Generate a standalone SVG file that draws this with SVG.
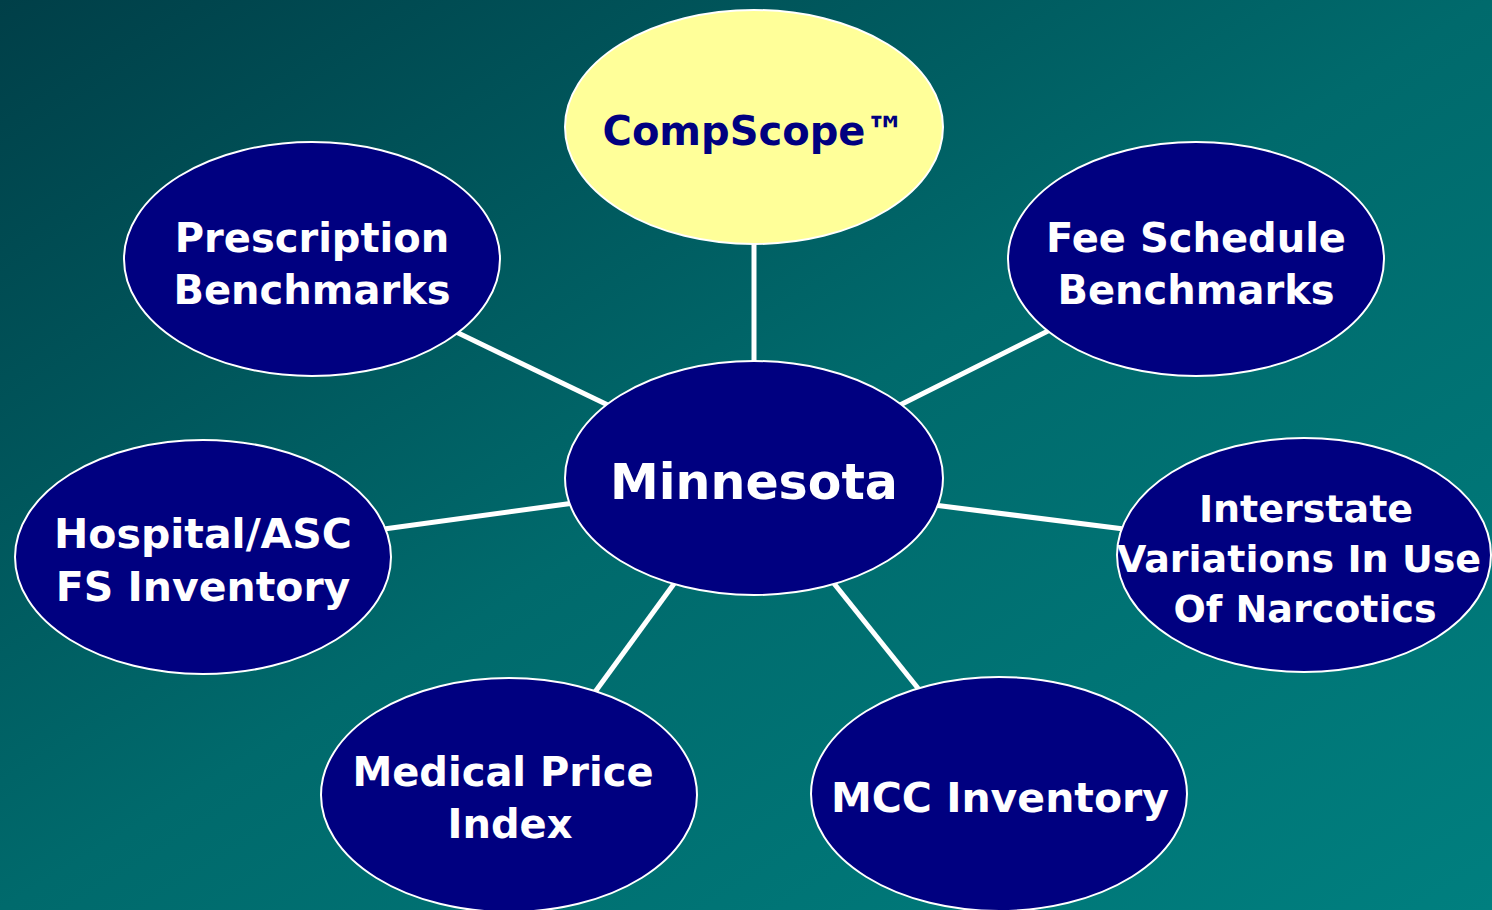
<svg xmlns="http://www.w3.org/2000/svg" width="1492" height="910" viewBox="0 0 1492 910">
<defs>
<linearGradient id="bg" x1="0" y1="0" x2="1" y2="1">
<stop offset="0" stop-color="#003f48"/>
<stop offset="0.5" stop-color="#006a6c"/>
<stop offset="1" stop-color="#007f7f"/>
</linearGradient>
<style>
.node{fill:#000080;stroke:#ffffff;stroke-width:2}
.hub{fill:#ffff99;stroke:#ffffff;stroke-width:2}
.lbl{font-family:"DejaVu Sans",Verdana,sans-serif;font-weight:bold;fill:#ffffff;text-anchor:middle;font-size:40px}
.conn{stroke:#ffffff;stroke-width:5;fill:none}
</style>
</defs>
<rect width="1492" height="910" fill="url(#bg)"/>
<g id="connectors">
<line class="conn" x1="754" y1="240" x2="754" y2="365"/>
<line class="conn" x1="452" y1="330" x2="612" y2="407"/>
<line class="conn" x1="1054" y1="328" x2="898" y2="406"/>
<line class="conn" x1="384" y1="529" x2="574" y2="503"/>
<line class="conn" x1="934" y1="505" x2="1124" y2="529"/>
<line class="conn" x1="595" y1="692" x2="676" y2="581"/>
<line class="conn" x1="832" y1="581" x2="921" y2="692"/>
</g>
<g id="compscope">
<ellipse class="hub" cx="754" cy="127" rx="189" ry="117"/>
<text class="lbl" x="754" y="145" style="fill:#000080;font-size:40px">CompScope™</text>
</g>
<g id="minnesota">
<ellipse class="node" cx="754" cy="478" rx="189" ry="117"/>
<text class="lbl" x="754" y="499" style="font-size:49px">Minnesota</text>
</g>
<g id="prescription">
<ellipse class="node" cx="312" cy="259" rx="188" ry="117"/>
<text class="lbl" x="312" y="252">Prescription</text>
<text class="lbl" x="312" y="304">Benchmarks</text>
</g>
<g id="fee-schedule">
<ellipse class="node" cx="1196" cy="259" rx="188" ry="117"/>
<text class="lbl" x="1196" y="252">Fee Schedule</text>
<text class="lbl" x="1196" y="304">Benchmarks</text>
</g>
<g id="hospital">
<ellipse class="node" cx="203" cy="557" rx="188" ry="117"/>
<text class="lbl" x="203" y="548" style="font-size:41px">Hospital/ASC</text>
<text class="lbl" x="203" y="601" style="font-size:41px">FS Inventory</text>
</g>
<g id="interstate">
<ellipse class="node" cx="1304" cy="555" rx="187" ry="117"/>
<text class="lbl" x="1306" y="522" style="font-size:38px">Interstate</text>
<text class="lbl" x="1299" y="572" style="font-size:38px">Variations In Use</text>
<text class="lbl" x="1305" y="622" style="font-size:38px">Of Narcotics</text>
</g>
<g id="medical-price">
<ellipse class="node" cx="509" cy="795" rx="188" ry="117"/>
<text class="lbl" x="503" y="786">Medical Price</text>
<text class="lbl" x="510" y="838">Index</text>
</g>
<g id="mcc">
<ellipse class="node" cx="999" cy="794" rx="188" ry="117"/>
<text class="lbl" x="1000" y="812" style="font-size:41px">MCC Inventory</text>
</g>
</svg>
